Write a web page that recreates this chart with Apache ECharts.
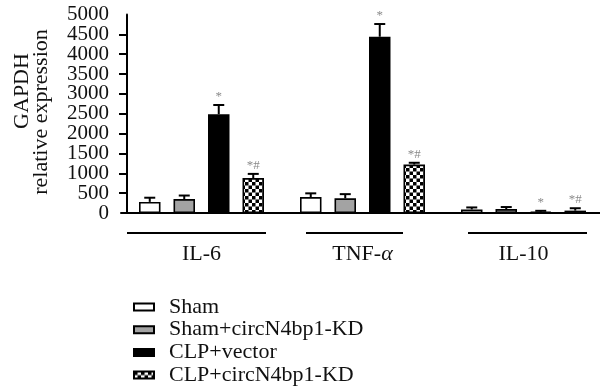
<!DOCTYPE html>
<html>
<head>
<meta charset="utf-8">
<script src="https://cdn.jsdelivr.net/npm/echarts@6/dist/echarts.min.js"></script>
<style>html,body{margin:0;padding:0;background:#fff;}#c{width:600px;height:391px;}</style>
</head>
<body>
<div id="c"></div>
<script>
// ---- data ----
const categories = ['IL-6', 'TNF-α', 'IL-10'];
const seriesNames = ['Sham', 'Sham+circN4bp1-KD', 'CLP+vector', 'CLP+circN4bp1-KD'];
const sham = [280, 400, 90];
const shamKD = [350, 370, 100];
const clpVector = [2490, 4440, 30];
const clpKD = [880, 1220, 60];
const shamErr = [105, 95, 50];
const shamKDErr = [90, 105, 50];
const clpVectorErr = [230, 320, 25];
const clpKDErr = [105, 45, 60];
const clpVectorMarks = ['*', '*', '*'];
const clpKDMarks = ['*#', '*#', '*#'];
const yTickValues = [0, 500, 1000, 1500, 2000, 2500, 3000, 3500, 4000, 4500, 5000];

const FONT = '"Liberation Serif", "DejaVu Serif", serif';
const BAR_W = 21.5, BAR_GAP = 13, SPACING = BAR_W + BAR_GAP;
const Y_MIN = yTickValues[0], Y_MAX = yTickValues[yTickValues.length - 1];

// checker pattern
const pat = document.createElement('canvas');
pat.width = 7; pat.height = 7;
const pc = pat.getContext('2d');
pc.fillStyle = '#fff'; pc.fillRect(0, 0, 7, 7);
pc.fillStyle = '#000'; pc.fillRect(0, 0, 3.5, 3.5); pc.fillRect(3.5, 3.5, 3.5, 3.5);

const values = [sham, shamKD, clpVector, clpKD];
const errs = [shamErr, shamKDErr, clpVectorErr, clpKDErr];
const marks = [null, null, clpVectorMarks, clpKDMarks];
const fills = ['#ffffff', '#a3a3a3', '#000000', { image: pat, repeat: 'repeat' }];

const errData = [];
const errMarks = [];
for (let s = 0; s < 4; s++) {
  for (let c = 0; c < categories.length; c++) {
    errData.push([c, s, values[s][c], errs[s][c]]);
    errMarks.push(marks[s] ? marks[s][c] : '');
  }
}

const barSeries = seriesNames.map((n, i) => ({
  name: n, type: 'bar', data: values[i], yAxisIndex: 0,
  barWidth: BAR_W, barGap: (BAR_GAP / BAR_W * 100) + '%',
  itemStyle: { color: fills[i], borderColor: '#000', borderWidth: 1.6 },
  emphasis: { disabled: true }, animation: false
}));

const yLabelStyle = { margin: 18, color: '#111', fontSize: 21, lineHeight: 16, fontFamily: FONT, hideOverlap: false,
  formatter: function (v) { return String(v); } };

const chart = echarts.init(document.getElementById('c'), null, { renderer: 'canvas' });
chart.setOption({
  animation: false,
  backgroundColor: '#fff',
  textStyle: { fontFamily: FONT },
  grid: { left: 121, right: -4, top: 14.5, bottom: 178, containLabel: false, outerBoundsMode: 'none' },
  legend: {
    orient: 'vertical', left: 133, top: 296, height: 95, padding: 0,
    itemWidth: 20, itemHeight: 7, itemGap: 0.7,
    icon: 'rect',
    data: seriesNames,
    textStyle: { fontFamily: FONT, fontSize: 22, color: '#111', lineHeight: 21, padding: [0, 0, 0, 10] },
    selectedMode: false
  },
  xAxis: {
    type: 'category', data: categories,
    axisLine: { lineStyle: { color: '#000', width: 2 } },
    axisTick: { alignWithLabel: true, length: 8, lineStyle: { color: '#000', width: 2 } },
    axisLabel: {
      margin: 30, color: '#111', fontSize: 22, fontFamily: FONT,
      formatter: function (v) {
        if (v.indexOf('α') >= 0) return '{t|' + v.replace('α', '') + '}{i|α}';
        return '{t|' + v + '}';
      },
      rich: {
        t: { fontFamily: FONT, fontSize: 22, color: '#111' },
        i: { fontFamily: FONT, fontSize: 22, color: '#111', fontStyle: 'italic' }
      }
    }
  },
  yAxis: [{
    type: 'value', min: Y_MIN, max: Y_MAX, interval: 500, position: 'left',
    offset: -6,
    axisLine: { show: true, lineStyle: { color: '#000', width: 2 } },
    axisTick: { show: true, length: 8, customValues: yTickValues, lineStyle: { color: '#000', width: 2 } },
    splitLine: { show: false },
    axisLabel: Object.assign({ customValues: yTickValues }, yLabelStyle)
  }, {
    type: 'value', min: Y_MIN, max: Y_MAX, interval: 500, position: 'left',
    offset: -6,
    axisLine: { show: false },
    axisTick: { show: false },
    splitLine: { show: false },
    axisLabel: Object.assign({ customValues: [Y_MIN, Y_MAX], showMinLabel: true, showMaxLabel: true }, yLabelStyle)
  }],
  graphic: [
    { type: 'text', x: 22, y: 91, rotation: Math.PI / 2,
      style: { text: 'GAPDH', font: '22px ' + FONT, fill: '#111', textAlign: 'center', textVerticalAlign: 'middle' } },
    { type: 'text', x: 41, y: 112, rotation: Math.PI / 2,
      style: { text: 'relative expression', font: '22px ' + FONT, fill: '#111', textAlign: 'center', textVerticalAlign: 'middle' } },
    { type: 'line', shape: { x1: 127, y1: 233, x2: 266, y2: 233 }, style: { stroke: '#000', lineWidth: 2 } },
    { type: 'line', shape: { x1: 306, y1: 233, x2: 403, y2: 233 }, style: { stroke: '#000', lineWidth: 2 } },
    { type: 'line', shape: { x1: 468, y1: 233, x2: 587, y2: 233 }, style: { stroke: '#000', lineWidth: 2 } }
  ],
  series: barSeries.concat([{
    type: 'custom', z: 5, silent: true, animation: false, yAxisIndex: 0,
    data: errData,
    encode: { x: 0, y: 2 },
    renderItem: function (params, api) {
      const c = api.value(0), s = api.value(1), v = api.value(2), e = api.value(3);
      const base = api.coord([c, v]);
      const x = base[0] + (s - 1.5) * SPACING;
      const top = api.coord([c, v + e])[1];
      const children = [
        { type: 'line', shape: { x1: x, y1: base[1], x2: x, y2: top }, style: { stroke: '#000', lineWidth: 2 } },
        { type: 'line', shape: { x1: x - 5.5, y1: top, x2: x + 5.5, y2: top }, style: { stroke: '#000', lineWidth: 2 } }
      ];
      const m = errMarks[params.dataIndex];
      if (m) {
        children.push({ type: 'text', x: x, y: top - 2,
          style: { text: m, font: '13px ' + FONT, fill: '#8a8a8a', textAlign: 'center', textVerticalAlign: 'bottom' } });
      }
      return { type: 'group', children: children };
    }
  }])
});
</script>
</body>
</html>
